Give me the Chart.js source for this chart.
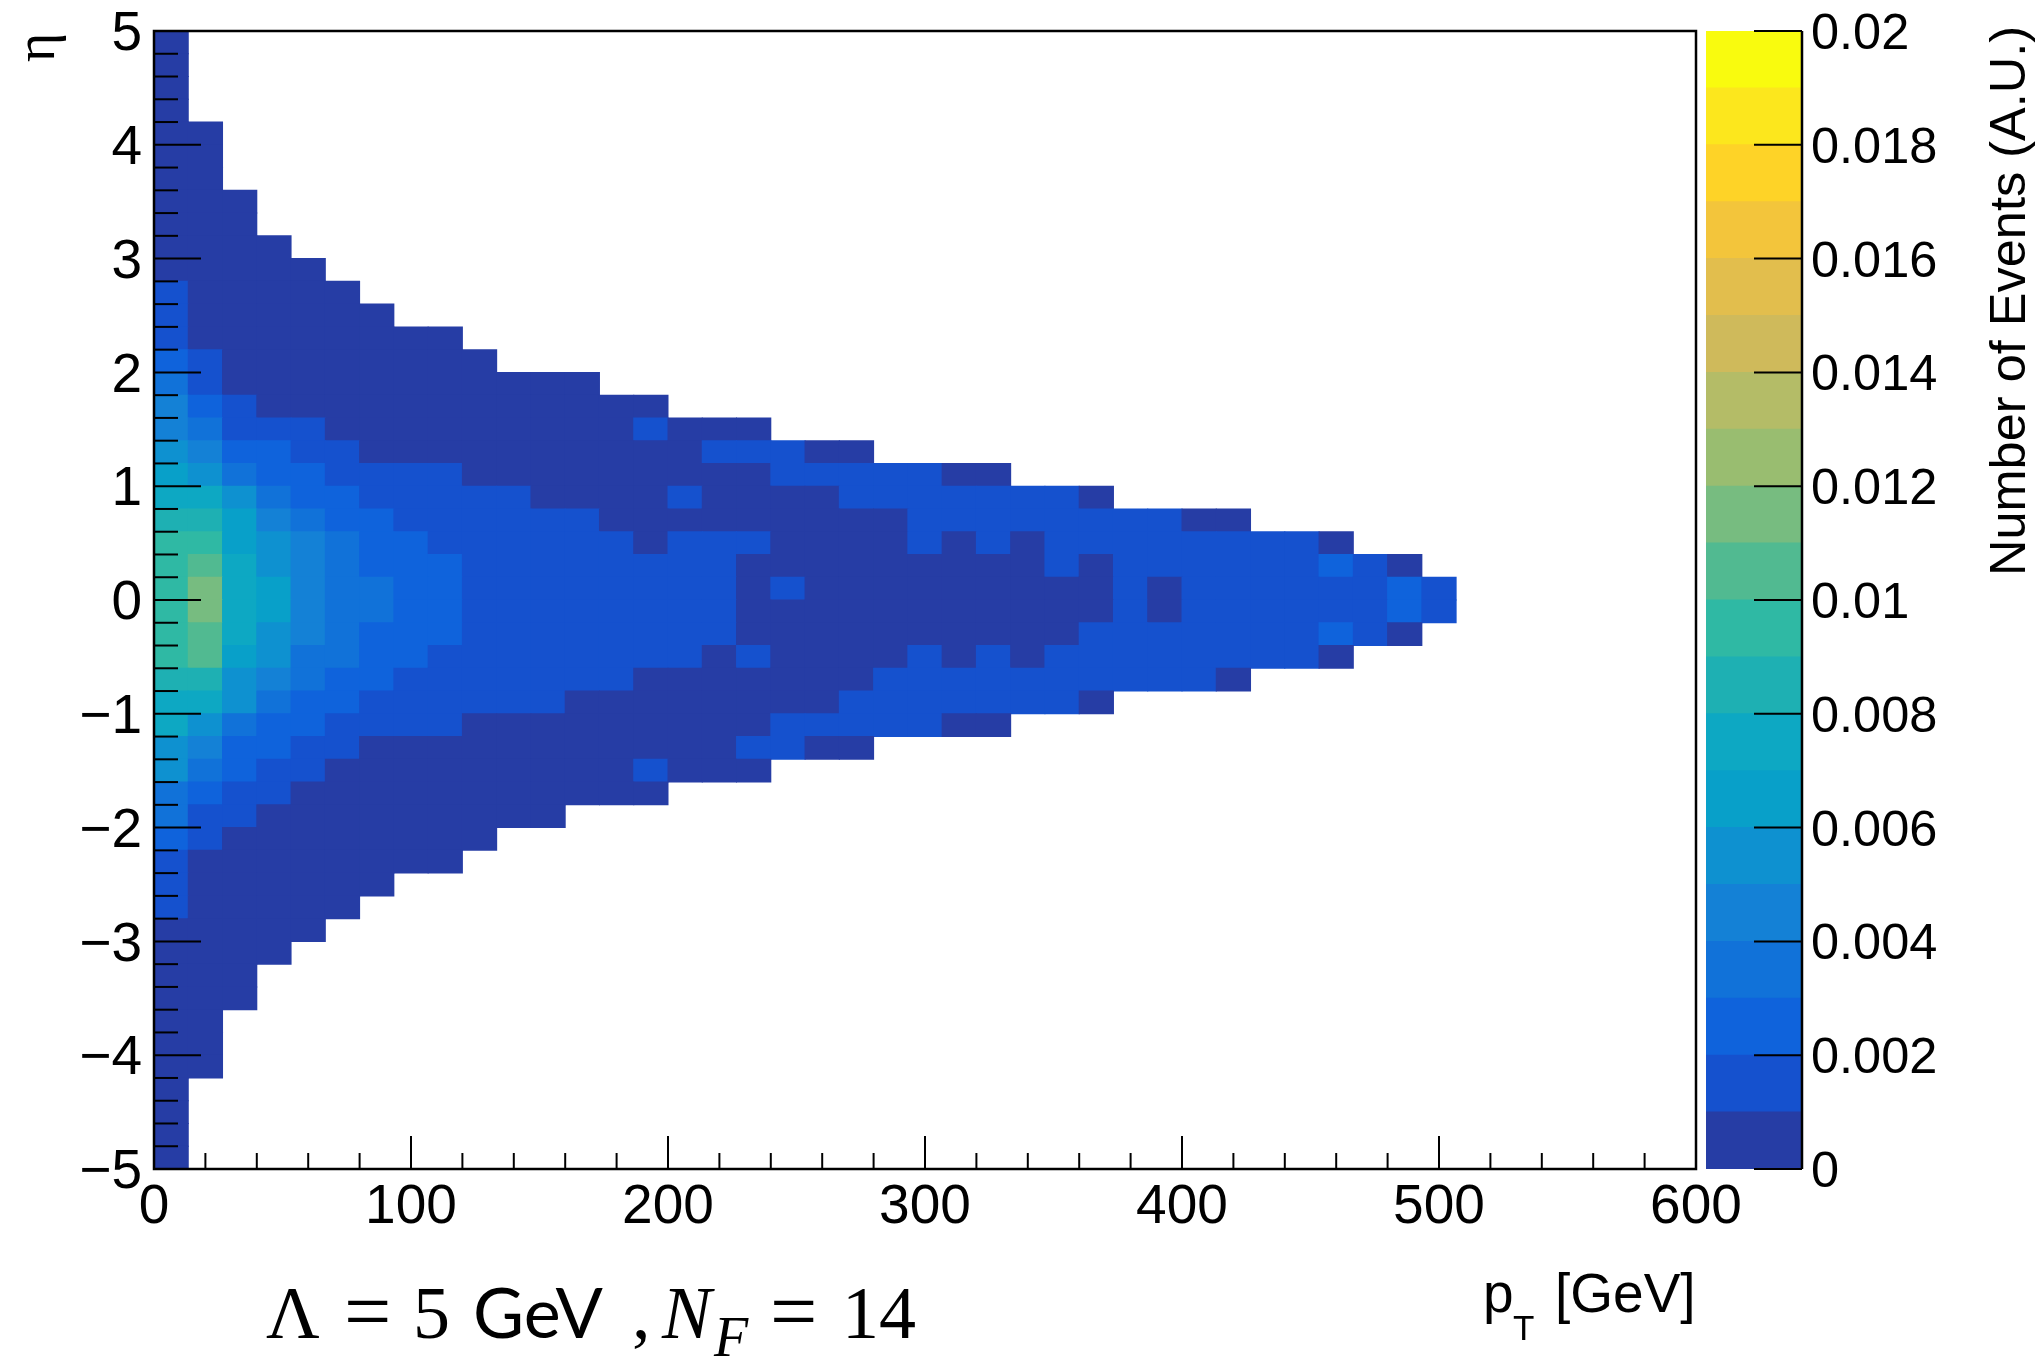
<!DOCTYPE html>
<html>
<head>
<meta charset="utf-8">
<title>pT vs eta</title>
<script src="https://cdn.jsdelivr.net/npm/chart.js@4"></script>
<style>
  body { margin: 0; background: #fff; }
  canvas { position: absolute; top: 0; }
  #heatmap { left: 0; }
  #colorbar { left: 1660px; }
</style>
</head>
<body>
<canvas id="heatmap" width="2044" height="1357"></canvas>
<canvas id="colorbar" width="384" height="1357"></canvas>
<script>
// Axis ranges and tick labels
const ptTicks = [0, 100, 200, 300, 400, 500, 600];
const etaTicks = [-5, -4, -3, -2, -1, 0, 1, 2, 3, 4, 5];
const zTicks = [0, 0.002, 0.004, 0.006, 0.008, 0.01, 0.012, 0.014, 0.016, 0.018, 0.02];
const minorPerMajor = 5;
const ptBinCount = 45;
const etaBinCount = 50;

// One colour per contour band of width 0.001
const bandColors = [
  "#263da5", "#1551ce", "#0f63dc", "#1172d9", "#1481d6", "#0e91d0", "#08a0c9",
  "#0da8c3", "#1eb0b3", "#2fb9a4", "#51ba91", "#77bc80", "#99bd70", "#b4bc67",
  "#cfba5b", "#e2be4d", "#f3c53b", "#fed327", "#fce71d", "#f9fb0e",
];

// Bin contents as band number (units of 0.001), top eta row first, left pt bin first.
// Bins past the end of a row are empty.
const binBands = [
  [0],
  [0],
  [0],
  [0],
  [0, 0],
  [0, 0],
  [0, 0],
  [0, 0, 0],
  [0, 0, 0],
  [0, 0, 0, 0],
  [0, 0, 0, 0, 0],
  [1, 0, 0, 0, 0, 0],
  [1, 0, 0, 0, 0, 0, 0],
  [1, 0, 0, 0, 0, 0, 0, 0, 0],
  [2, 1, 0, 0, 0, 0, 0, 0, 0, 0],
  [3, 1, 0, 0, 0, 0, 0, 0, 0, 0, 0, 0, 0],
  [4, 2, 1, 0, 0, 0, 0, 0, 0, 0, 0, 0, 0, 0, 0],
  [4, 3, 1, 1, 1, 0, 0, 0, 0, 0, 0, 0, 0, 0, 1, 0, 0, 0],
  [5, 4, 2, 2, 1, 1, 0, 0, 0, 0, 0, 0, 0, 0, 0, 0, 1, 1, 1, 0, 0],
  [6, 5, 3, 2, 2, 1, 1, 1, 1, 0, 0, 0, 0, 0, 0, 0, 0, 0, 1, 1, 1, 1, 1, 0, 0],
  [7, 7, 5, 3, 2, 2, 1, 1, 1, 1, 1, 0, 0, 0, 0, 1, 0, 0, 0, 0, 1, 1, 1, 1, 1, 1, 1, 0],
  [8, 8, 6, 4, 3, 2, 2, 1, 1, 1, 1, 1, 1, 0, 0, 0, 0, 0, 0, 0, 0, 0, 1, 1, 1, 1, 1, 1, 1, 1, 0, 0],
  [9, 9, 6, 5, 4, 3, 2, 2, 1, 1, 1, 1, 1, 1, 0, 1, 1, 1, 0, 0, 0, 0, 1, 0, 1, 0, 1, 1, 1, 1, 1, 1, 1, 1, 0],
  [9, 10, 7, 5, 4, 3, 2, 2, 2, 1, 1, 1, 1, 1, 1, 1, 1, 0, 0, 0, 0, 0, 0, 0, 0, 0, 1, 0, 1, 1, 1, 1, 1, 1, 2, 1, 0],
  [9, 11, 7, 6, 4, 3, 3, 2, 2, 1, 1, 1, 1, 1, 1, 1, 1, 0, 1, 0, 0, 0, 0, 0, 0, 0, 0, 0, 1, 0, 1, 1, 1, 1, 1, 1, 2, 1],
  [9, 11, 7, 6, 4, 3, 3, 2, 2, 1, 1, 1, 1, 1, 1, 1, 1, 0, 0, 0, 0, 0, 0, 0, 0, 0, 0, 0, 1, 0, 1, 1, 1, 1, 1, 1, 2, 1],
  [9, 10, 7, 5, 4, 3, 2, 2, 2, 1, 1, 1, 1, 1, 1, 1, 1, 0, 0, 0, 0, 0, 0, 0, 0, 0, 0, 1, 1, 1, 1, 1, 1, 1, 2, 1, 0],
  [9, 10, 6, 5, 3, 3, 2, 2, 1, 1, 1, 1, 1, 1, 1, 1, 0, 1, 0, 0, 0, 0, 1, 0, 1, 0, 1, 1, 1, 1, 1, 1, 1, 1, 0],
  [8, 8, 5, 4, 3, 2, 2, 1, 1, 1, 1, 1, 1, 1, 0, 0, 0, 0, 0, 0, 0, 1, 1, 1, 1, 1, 1, 1, 1, 1, 1, 0],
  [7, 7, 5, 3, 2, 2, 1, 1, 1, 1, 1, 1, 0, 0, 0, 0, 0, 0, 0, 0, 1, 1, 1, 1, 1, 1, 1, 0],
  [7, 5, 3, 2, 2, 1, 1, 1, 1, 0, 0, 0, 0, 0, 0, 0, 0, 0, 1, 1, 1, 1, 1, 0, 0],
  [5, 4, 2, 2, 1, 1, 0, 0, 0, 0, 0, 0, 0, 0, 0, 0, 0, 1, 1, 0, 0],
  [5, 3, 2, 1, 1, 0, 0, 0, 0, 0, 0, 0, 0, 0, 1, 0, 0, 0],
  [3, 2, 1, 1, 0, 0, 0, 0, 0, 0, 0, 0, 0, 0, 0],
  [3, 1, 1, 0, 0, 0, 0, 0, 0, 0, 0, 0],
  [2, 1, 0, 0, 0, 0, 0, 0, 0, 0],
  [1, 0, 0, 0, 0, 0, 0, 0, 0],
  [1, 0, 0, 0, 0, 0, 0],
  [1, 0, 0, 0, 0, 0],
  [0, 0, 0, 0, 0],
  [0, 0, 0, 0],
  [0, 0, 0],
  [0, 0, 0],
  [0, 0],
  [0, 0],
  [0, 0],
  [0],
  [0],
  [0],
  [0],
];

const SANS = '"Liberation Sans", Arial, sans-serif';
const SERIF = '"Liberation Serif", "Times New Roman", serif';

Chart.defaults.font.family = SANS;
Chart.defaults.color = "#000";
Chart.defaults.animation = false;

// Build the cells from the bin table
const ptMax = ptTicks[ptTicks.length - 1];
const etaMax = etaTicks[etaTicks.length - 1];
const ptBinWidth = ptMax / ptBinCount;
const etaBinWidth = (etaMax - etaTicks[0]) / etaBinCount;

const cells = [];
binBands.forEach((row, r) => {
  row.forEach((band, c) => {
    cells.push({
      x: (c + 0.5) * ptBinWidth,
      y: [etaMax - (r + 1) * etaBinWidth, etaMax - r * etaBinWidth],
      band: band,
    });
  });
});

// ROOT style ticks point inwards, Chart.js only draws them outwards
function strokeLine(ctx, x1, y1, x2, y2) {
  ctx.beginPath();
  ctx.moveTo(x1, y1);
  ctx.lineTo(x2, y2);
  ctx.stroke();
}

// Tick labels hang over the plot edges, keep them from pushing the plot area in
function fixAxisSize(scale, size) {
  if (scale.isHorizontal()) {
    scale.height = size;
  } else {
    scale.width = size;
  }
  scale.paddingTop = 0;
  scale.paddingBottom = 0;
  scale.paddingLeft = 0;
  scale.paddingRight = 0;
}

const heatmapFrame = {
  id: "heatmapFrame",
  afterDatasetsDraw(chart) {
    const { ctx, chartArea: area, scales } = chart;
    ctx.save();
    ctx.strokeStyle = "#000";
    ctx.lineWidth = 2;

    const ptStep = (ptTicks[1] - ptTicks[0]) / minorPerMajor;
    for (let i = 0; i * ptStep <= ptMax; i++) {
      const px = scales.x.getPixelForValue(i * ptStep);
      strokeLine(ctx, px, area.bottom, px, area.bottom - (i % minorPerMajor === 0 ? 33 : 16));
    }
    const etaStep = (etaTicks[1] - etaTicks[0]) / minorPerMajor;
    for (let i = 0; etaTicks[0] + i * etaStep <= etaMax + 1e-9; i++) {
      const py = scales.y.getPixelForValue(etaTicks[0] + i * etaStep);
      strokeLine(ctx, area.left, py, area.left + (i % minorPerMajor === 0 ? 47 : 24), py);
    }

    ctx.lineWidth = 2.5;
    ctx.strokeRect(area.left, area.top, area.right - area.left, area.bottom - area.top);
    ctx.restore();
  },
};

// Axis titles and the parameter note, which need sub-scripts and rotation
const pageLabels = {
  id: "pageLabels",
  afterDraw(chart) {
    const ctx = chart.ctx;
    ctx.save();
    ctx.fillStyle = "#000";
    ctx.textBaseline = "alphabetic";
    ctx.textAlign = "left";

    ctx.font = "55px " + SANS;
    ctx.fillText("p", 1483, 1312);
    ctx.fillText("[GeV]", 1555, 1312);
    ctx.font = "35px " + SANS;
    ctx.fillText("T", 1513, 1340);

    const serif = "74px " + SERIF;
    const equals = "84px " + SERIF;
    const note = [
      ["Λ", 266, 1338, serif],
      ["=", 344, 1340, equals],
      ["5", 413, 1338, serif],
      ["GeV", 473, 1338, "70px Lato, " + SANS],
      [",", 632, 1338, serif],
      ["N", 662, 1338, "italic " + serif],
      ["F", 714, 1356, "italic 56px " + SERIF],
      ["=", 770, 1340, equals],
      ["14", 842, 1338, serif],
    ];
    note.forEach(([text, x, y, font]) => {
      ctx.font = font;
      ctx.fillText(text, x, y);
    });

    ctx.save();
    ctx.translate(54, 62);
    ctx.rotate(-Math.PI / 2);
    ctx.font = "56px " + SERIF;
    ctx.fillText("η", 0, 0);
    ctx.restore();

    ctx.save();
    ctx.translate(2025, 576);
    ctx.rotate(-Math.PI / 2);
    ctx.font = "50.5px " + SANS;
    ctx.fillText("Number of Events (A.U.)", 0, 0);
    ctx.restore();

    ctx.restore();
  },
};

new Chart(document.getElementById("heatmap"), {
  type: "bar",
  data: {
    datasets: [
      {
        label: "Number of Events",
        data: cells,
        backgroundColor: (c) => bandColors[c.raw.band],
        barPercentage: 1,
        categoryPercentage: 1,
        inflateAmount: 0.5,
      },
    ],
  },
  options: {
    responsive: false,
    layout: { autoPadding: false, padding: { top: 31, right: 348 } },
    plugins: { legend: { display: false }, tooltip: { enabled: false } },
    scales: {
      x: {
        type: "linear",
        min: 0,
        max: ptMax,
        offset: false,
        grid: { display: false, drawTicks: false },
        border: { display: false },
        afterBuildTicks: (s) => { s.ticks = ptTicks.map((v) => ({ value: v })); },
        afterFit: (s) => fixAxisSize(s, 188),
        ticks: { autoSkip: false, maxRotation: 0, padding: 6, font: { size: 55 } },
      },
      y: {
        type: "linear",
        min: etaTicks[0],
        max: etaMax,
        grid: { display: false, drawTicks: false },
        border: { display: false },
        afterBuildTicks: (s) => { s.ticks = etaTicks.map((v) => ({ value: v })); },
        afterFit: (s) => fixAxisSize(s, 154),
        ticks: {
          autoSkip: false,
          padding: 12,
          labelOffset: 4,
          font: { size: 55 },
          callback: (v) => String(v).replace("-", "\u2212"),
        },
      },
    },
  },
  plugins: [heatmapFrame, pageLabels],
});

// Colour bar, one floating bar per band
const colorbarFrame = {
  id: "colorbarFrame",
  afterDatasetsDraw(chart) {
    const { ctx, chartArea: area, scales } = chart;
    ctx.save();
    ctx.strokeStyle = "#000";
    ctx.lineWidth = 2;
    zTicks.forEach((v) => {
      const py = scales.y.getPixelForValue(v);
      strokeLine(ctx, area.right, py, area.right - 48, py);
    });
    ctx.lineWidth = 2.5;
    strokeLine(ctx, area.right, area.top, area.right, area.bottom);
    ctx.restore();
  },
};

const bandWidth = zTicks[zTicks.length - 1] / bandColors.length;

new Chart(document.getElementById("colorbar"), {
  type: "bar",
  data: {
    labels: ["z"],
    datasets: bandColors.map((color, i) => ({
      data: [[i * bandWidth, (i + 1) * bandWidth]],
      backgroundColor: color,
      grouped: false,
      barPercentage: 1,
      categoryPercentage: 1,
      inflateAmount: 0.5,
    })),
  },
  options: {
    responsive: false,
    layout: { autoPadding: false, padding: { top: 31, left: 46, bottom: 188 } },
    plugins: { legend: { display: false }, tooltip: { enabled: false } },
    scales: {
      x: { display: false },
      y: {
        type: "linear",
        position: "right",
        min: 0,
        max: zTicks[zTicks.length - 1],
        grid: { display: false, drawTicks: false },
        border: { display: false },
        afterBuildTicks: (s) => { s.ticks = zTicks.map((v) => ({ value: v })); },
        afterFit: (s) => fixAxisSize(s, 242),
        ticks: {
          autoSkip: false,
          padding: 9,
          labelOffset: 4,
          font: { size: 50.5 },
          callback: (v) => String(v),
        },
      },
    },
  },
  plugins: [colorbarFrame],
});
</script>
</body>
</html>
